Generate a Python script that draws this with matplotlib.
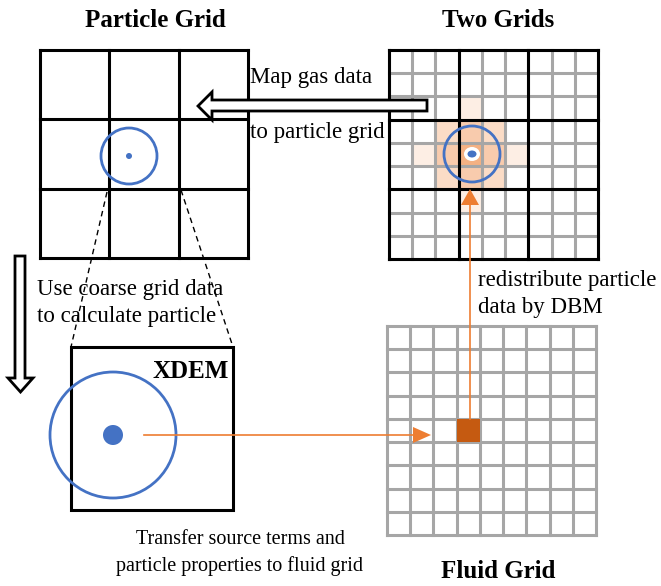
import numpy as np
import matplotlib
matplotlib.use('Agg')
from matplotlib import pyplot as plt
from matplotlib.patches import Rectangle, Circle, Ellipse, Polygon

# diagram content
titles = ['Particle Grid', 'Two Grids', 'Fluid Grid']
coarse_n = 3
fine_n = 9
# weight cells around the particle in the two-grid view (row, col, level)
shade_rows = [4, 3, 5, 4, 4, 3, 3, 5, 5, 2, 6, 4, 4]
shade_cols = [3, 3, 3, 2, 4, 2, 4, 2, 4, 3, 3, 1, 5]
shade_lvls = [0, 1, 1, 1, 1, 2, 2, 2, 2, 3, 3, 3, 3]
shade_colors = ['#f4b183', '#f8cbad', '#fbdcc6', '#fdeee4']
particle_cell = (4, 3)   # row, col in the fluid grid
map_text = ['Map gas data', 'to particle grid']
use_text = ['Use coarse grid data', 'to calculate particle']
dbm_text = ['redistribute particle', 'data by DBM']
transfer_text = ['Transfer source terms and', 'particle properties to fluid grid']

BLUE = '#4472c4'
ORANGE = '#ed7d31'
DARK_ORANGE = '#c55a11'
GRAY = '#a6a6a6'
FONT = 'Liberation Serif'

W, H = 661, 586
fig = plt.figure(figsize=(W / 100, H / 100), dpi=100)
ax = fig.add_axes([0, 0, 1, 1])
ax.set_xlim(0, W)
ax.set_ylim(H, 0)
ax.axis('off')


def draw_grid(x0, y0, size, n, color, lw, z=2):
    step = size / n
    for k in range(n + 1):
        ax.plot([x0 + k * step] * 2, [y0, y0 + size], color=color, lw=lw,
                solid_capstyle='projecting', zorder=z)
        ax.plot([x0, x0 + size], [y0 + k * step] * 2, color=color, lw=lw,
                solid_capstyle='projecting', zorder=z)


def particle(cx, cy, r_ring, r_dot, halo, ry=None):
    ax.add_patch(Circle((cx, cy), r_ring, fill=False, ec=BLUE, lw=2.0, zorder=5))
    ry = ry or r_dot
    ax.add_patch(Ellipse((cx, cy), 2 * (r_dot + halo), 2 * (ry + halo),
                         fc='white', ec='none', zorder=5))
    ax.add_patch(Ellipse((cx, cy), 2 * r_dot, 2 * ry, fc=BLUE, ec='none', zorder=6))


# particle grid
pg = (40, 50, 208)
draw_grid(*pg, coarse_n, 'black', 2.2)
particle(129, 156, 28, 3, 2)

# two grids
tg = (389, 50, 209)
step = tg[2] / fine_n
for r, c, l in zip(shade_rows, shade_cols, shade_lvls):
    ax.add_patch(Rectangle((tg[0] + c * step, tg[1] + r * step), step, step,
                           fc=shade_colors[l], ec='none', zorder=1))
draw_grid(*tg, fine_n, GRAY, 2.2, z=2)
draw_grid(*tg, coarse_n, 'black', 2.2, z=3)
particle(472, 154, 28, 4.5, 3.5, ry=3.5)

# fluid grid
fg = (387, 326, 209)
fstep = fg[2] / fine_n
pr, pc = particle_cell
ax.add_patch(Rectangle((fg[0] + pc * fstep, fg[1] + pr * fstep), fstep, fstep,
                       fc=DARK_ORANGE, ec='none', zorder=3))
draw_grid(*fg, fine_n, GRAY, 2.2, z=2)

# XDEM box
ax.add_patch(Rectangle((71, 347), 162, 163, fill=False, ec='black', lw=2.2, zorder=2))
particle(113, 435, 63, 10, 2)
ax.text(229, 378, 'XDEM', ha='right', va='baseline', fontsize=18,
        fontweight='bold', family=FONT, zorder=7)

# zoom lines
ax.plot([107, 71], [192, 347], color='black', lw=1, ls=(0, (4, 3)), zorder=1)
ax.plot([181, 233], [190, 347], color='black', lw=1, ls=(0, (4, 3)), zorder=1)

# hollow arrows
map_arrow = [(427, 100), (212, 100), (212, 92), (198, 106), (212, 120),
             (212, 111), (427, 111)]
ax.add_patch(Polygon(map_arrow, closed=True, fc='white', ec='black', lw=2,
                     joinstyle='miter', zorder=8))
down_arrow = [(15, 256), (25, 256), (25, 378), (33, 378), (20.5, 392),
              (8, 378), (15, 378)]
ax.add_patch(Polygon(down_arrow, closed=True, fc='white', ec='black', lw=2,
                     joinstyle='miter', zorder=8))

# orange arrows
ax.plot([470, 470], [419, 204], color=ORANGE, lw=1.2, zorder=9)
ax.add_patch(Polygon([(461, 205), (479, 205), (470, 189)], fc=ORANGE, ec='none', zorder=9))
ax.plot([144, 414], [435, 435], color=ORANGE, lw=1.2, zorder=9)
ax.add_patch(Polygon([(413, 427), (413, 443), (431, 435)], fc=ORANGE, ec='none', zorder=9))

# titles
ax.text(155, 27, titles[0], ha='center', va='baseline', fontsize=18,
        fontweight='bold', family=FONT)
ax.text(498, 27, titles[1], ha='center', va='baseline', fontsize=18,
        fontweight='bold', family=FONT)
ax.text(498, 578, titles[2], ha='center', va='baseline', fontsize=18,
        fontweight='bold', family=FONT)

# labels
fs = 16.5
ax.text(250, 83, map_text[0], va='baseline', fontsize=fs, family=FONT)
ax.text(250, 138, map_text[1], va='baseline', fontsize=fs, family=FONT)
ax.text(37, 295, use_text[0], va='baseline', fontsize=fs, family=FONT)
ax.text(37, 322, use_text[1], va='baseline', fontsize=fs, family=FONT)
ax.text(478, 286, dbm_text[0], va='baseline', fontsize=fs, family=FONT)
ax.text(478, 313, dbm_text[1], va='baseline', fontsize=fs, family=FONT)
ax.text(240, 544, transfer_text[0], ha='center', va='baseline', fontsize=14.5, family=FONT)
ax.text(240, 571, transfer_text[1], ha='center', va='baseline', fontsize=14.5, family=FONT)

fig.savefig('out.png', dpi=100)
